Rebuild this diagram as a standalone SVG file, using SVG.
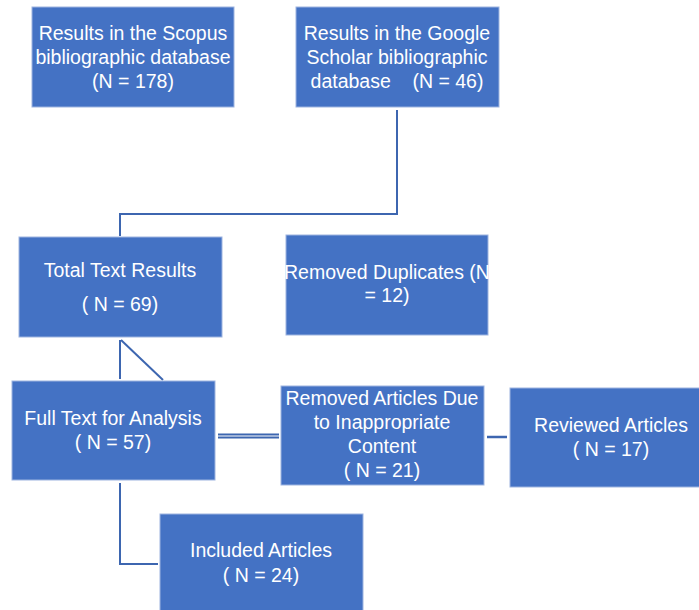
<svg xmlns="http://www.w3.org/2000/svg" width="699" height="610" viewBox="0 0 699 610">
<style>
.box{fill:#4472C4;stroke:#9DB4E0;stroke-width:1}
.t{font-family:"Liberation Sans",Arial,sans-serif;font-size:19.5px;fill:#FFFFFF;text-anchor:middle;white-space:pre}
.c{fill:none;stroke:#3D66B0;stroke-width:2}
</style>
<rect width="699" height="610" fill="#FFFFFF"/>
<g id="connectors">
<polyline class="c" points="397,110 397,214 120,214 120,236"/>
<line class="c" x1="120" y1="340" x2="120" y2="379"/>
<line class="c" x1="121" y1="340" x2="163" y2="380"/>
<line class="c" x1="218" y1="434.5" x2="279" y2="434.5"/>
<line class="c" x1="218" y1="437.5" x2="279" y2="437.5"/>
<line class="c" x1="487" y1="437" x2="507" y2="437" style="stroke-width:2.5"/>
<polyline class="c" points="120,483 120,564 158,564"/>
</g>
<g id="scopus">
<rect class="box" x="32" y="7" width="202" height="100"/>
<text class="t" x="133" y="40">Results in the Scopus</text>
<text class="t" x="133" y="64">bibliographic database</text>
<text class="t" x="133" y="88">(N = 178)</text>
</g>
<g id="scholar">
<rect class="box" x="296" y="7" width="203" height="100"/>
<text class="t" x="397" y="40">Results in the Google</text>
<text class="t" x="397" y="64">Scholar bibliographic</text>
<text class="t" x="397" y="88">database    (N = 46)</text>
</g>
<g id="total">
<rect class="box" x="19" y="237" width="203" height="100"/>
<text class="t" x="120" y="277">Total Text Results</text>
<text class="t" x="120" y="311">( N = 69)</text>
</g>
<g id="duplicates">
<rect class="box" x="286" y="235" width="202" height="100"/>
<text class="t" x="387" y="279">Removed Duplicates (N</text>
<text class="t" x="387" y="302">= 12)</text>
</g>
<g id="fulltext">
<rect class="box" x="12" y="381" width="203" height="99"/>
<text class="t" x="113" y="425">Full Text for Analysis</text>
<text class="t" x="113" y="449">( N = 57)</text>
</g>
<g id="removed">
<rect class="box" x="281" y="386" width="203" height="99"/>
<text class="t" x="382" y="405">Removed Articles Due</text>
<text class="t" x="382" y="429">to Inappropriate</text>
<text class="t" x="382" y="453">Content</text>
<text class="t" x="382" y="477">( N = 21)</text>
</g>
<g id="reviewed">
<rect class="box" x="510" y="388" width="195" height="99"/>
<text class="t" x="611" y="432">Reviewed Articles</text>
<text class="t" x="611" y="456">( N = 17)</text>
</g>
<g id="included">
<rect class="box" x="160" y="514" width="203" height="100"/>
<text class="t" x="261" y="557">Included Articles</text>
<text class="t" x="261" y="582">( N = 24)</text>
</g>
</svg>
